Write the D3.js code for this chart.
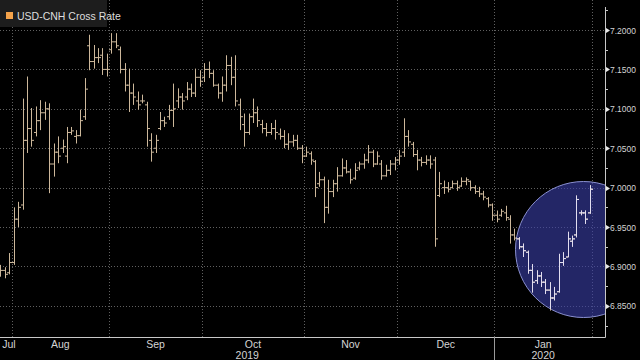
<!DOCTYPE html>
<html><head><meta charset="utf-8">
<script src="https://cdn.jsdelivr.net/npm/d3@7"></script>
<style>html,body{margin:0;padding:0;background:#000;} svg{display:block;}</style>
</head><body>
<svg id="c" width="640" height="360"></svg>
<script>
// ---------- data ----------
const dates = [
"2019-07-29","2019-07-30","2019-07-31",
"2019-08-01","2019-08-02","2019-08-05","2019-08-06","2019-08-07","2019-08-08","2019-08-09","2019-08-12","2019-08-13","2019-08-14","2019-08-15","2019-08-16","2019-08-19","2019-08-20","2019-08-21","2019-08-22","2019-08-23","2019-08-26","2019-08-27","2019-08-28","2019-08-29","2019-08-30",
"2019-09-02","2019-09-03","2019-09-04","2019-09-05","2019-09-06","2019-09-09","2019-09-10","2019-09-11","2019-09-12","2019-09-13","2019-09-16","2019-09-17","2019-09-18","2019-09-19","2019-09-20","2019-09-23","2019-09-24","2019-09-25","2019-09-26","2019-09-27","2019-09-30",
"2019-10-01","2019-10-02","2019-10-03","2019-10-04","2019-10-07","2019-10-08","2019-10-09","2019-10-10","2019-10-11","2019-10-14","2019-10-15","2019-10-16","2019-10-17","2019-10-18","2019-10-21","2019-10-22","2019-10-23","2019-10-24","2019-10-25","2019-10-28","2019-10-29","2019-10-30","2019-10-31",
"2019-11-01","2019-11-04","2019-11-05","2019-11-06","2019-11-07","2019-11-08","2019-11-11","2019-11-12","2019-11-13","2019-11-14","2019-11-15","2019-11-18","2019-11-19","2019-11-20","2019-11-21","2019-11-22","2019-11-25","2019-11-26","2019-11-27","2019-11-28","2019-11-29",
"2019-12-02","2019-12-03","2019-12-04","2019-12-05","2019-12-06","2019-12-09","2019-12-10","2019-12-11","2019-12-12","2019-12-13","2019-12-16","2019-12-17","2019-12-18","2019-12-19","2019-12-20","2019-12-23","2019-12-24","2019-12-25","2019-12-26","2019-12-27","2019-12-30","2019-12-31",
"2020-01-02","2020-01-03","2020-01-06","2020-01-07","2020-01-08","2020-01-09","2020-01-10","2020-01-13","2020-01-14","2020-01-15","2020-01-16","2020-01-17","2020-01-20","2020-01-21","2020-01-22","2020-01-23","2020-01-24","2020-01-27","2020-01-28","2020-01-29","2020-01-30","2020-01-31"];

const highs = [6.902,6.899,6.917,6.975,6.982,7.113,7.141,7.101,7.103,7.111,
7.109,7.107,7.056,7.065,7.061,7.077,7.077,7.073,7.099,7.139,
7.194,7.181,7.177,7.177,7.170,7.196,7.196,7.179,7.158,7.151,
7.132,7.122,7.118,7.109,7.069,7.067,7.096,7.090,7.105,7.132,
7.126,7.120,7.134,7.132,7.151,7.149,7.158,7.160,7.149,7.132,
7.141,7.168,7.166,7.168,7.113,7.094,7.094,7.113,7.103,7.086,
7.082,7.082,7.086,7.075,7.073,7.069,7.067,7.067,7.054,7.052,
7.046,7.035,7.020,7.014,7.010,7.010,7.026,7.037,7.035,7.024,
7.031,7.033,7.043,7.054,7.048,7.046,7.035,7.029,7.035,7.039,
7.048,7.088,7.073,7.058,7.048,7.039,7.041,7.041,7.039,7.020,
7.009,7.007,7.009,7.009,7.013,7.013,7.009,7.003,7.001,6.996,
6.988,6.980,6.971,6.973,6.977,6.965,6.948,6.937,6.929,6.920,
6.903,6.895,6.893,6.884,6.880,6.874,6.916,6.918,6.944,6.939,
6.990,6.971,6.971,7.003];

const lows = [6.887,6.885,6.890,6.902,6.950,6.972,7.044,7.052,7.065,7.073,
7.086,6.993,7.014,7.031,7.044,7.031,7.067,7.056,7.065,7.086,
7.149,7.151,7.158,7.143,7.141,7.170,7.177,7.145,7.122,7.096,
7.105,7.099,7.107,7.052,7.033,7.044,7.073,7.077,7.086,7.077,
7.101,7.099,7.111,7.115,7.115,7.128,7.134,7.139,7.128,7.113,
7.109,7.122,7.130,7.103,7.073,7.052,7.067,7.082,7.077,7.069,
7.065,7.067,7.061,7.061,7.050,7.048,7.052,7.048,7.031,7.039,
7.029,6.988,7.001,6.955,6.967,6.988,6.995,7.014,7.018,7.005,
7.010,7.022,7.024,7.031,7.026,7.029,7.010,7.014,7.016,7.022,
7.029,7.039,7.052,7.039,7.022,7.027,7.029,7.024,6.925,6.988,
6.992,6.994,6.999,6.996,7.001,7.003,6.996,6.992,6.988,6.984,
6.975,6.958,6.956,6.963,6.958,6.929,6.933,6.922,6.912,6.891,
6.867,6.878,6.874,6.865,6.844,6.857,6.867,6.901,6.912,6.925,
6.937,6.965,6.954,6.967];

const opens = [6.890,6.895,6.892,6.905,6.960,6.978,7.060,7.075,7.070,7.085,
7.095,7.100,7.030,7.045,7.050,7.040,7.070,7.065,7.066,7.090,
7.180,7.160,7.165,7.168,7.150,7.175,7.185,7.175,7.150,7.130,
7.120,7.110,7.110,7.105,7.060,7.050,7.075,7.085,7.090,7.098,
7.110,7.115,7.115,7.125,7.120,7.140,7.140,7.150,7.145,7.130,
7.120,7.130,7.155,7.140,7.105,7.080,7.070,7.090,7.095,7.080,
7.075,7.070,7.075,7.068,7.065,7.055,7.058,7.060,7.050,7.040,
7.043,7.033,7.005,7.010,6.975,6.995,7.005,7.015,7.025,7.020,
7.012,7.025,7.030,7.035,7.045,7.030,7.030,7.015,7.022,7.030,
7.035,7.045,7.065,7.055,7.042,7.035,7.032,7.035,7.035,6.990,
7.000,7.000,7.000,7.005,7.002,7.008,7.008,7.000,6.995,6.992,
6.986,6.978,6.965,6.965,6.968,6.960,6.940,6.935,6.925,6.918,
6.895,6.882,6.888,6.880,6.870,6.860,6.868,6.905,6.912,6.932,
6.940,6.968,6.968,6.968];

const closes = [6.895,6.890,6.905,6.960,6.975,7.060,7.075,7.060,7.085,7.095,
7.100,7.030,7.045,7.040,7.052,7.070,7.072,7.066,7.085,7.125,
7.160,7.165,7.165,7.150,7.150,7.185,7.180,7.150,7.130,7.120,
7.115,7.105,7.110,7.075,7.045,7.060,7.085,7.082,7.098,7.100,
7.115,7.110,7.125,7.120,7.140,7.135,7.150,7.145,7.130,7.120,
7.130,7.155,7.140,7.110,7.090,7.070,7.090,7.095,7.085,7.075,
7.070,7.075,7.070,7.065,7.055,7.058,7.060,7.050,7.040,7.045,
7.035,7.000,7.010,6.975,6.995,7.005,7.015,7.025,7.020,7.010,
7.022,7.030,7.035,7.045,7.030,7.040,7.015,7.022,7.030,7.035,
7.040,7.065,7.058,7.042,7.035,7.032,7.035,7.030,6.935,7.005,
7.000,6.998,7.005,7.000,7.008,7.010,7.000,6.995,6.992,6.988,
6.978,6.965,6.960,6.970,6.962,6.940,6.936,6.925,6.920,6.895,
6.880,6.888,6.880,6.870,6.860,6.865,6.905,6.910,6.935,6.935,
6.985,6.968,6.960,6.998];

const yTicks = [6.85, 6.90, 6.95, 7.00, 7.05, 7.10, 7.15, 7.20];
const yMinorTicks = [6.825, 6.875, 6.925, 6.975, 7.025, 7.075, 7.125, 7.175, 7.225];
const monthNames = ["Jan","Feb","Mar","Apr","May","Jun","Jul","Aug","Sep","Oct","Nov","Dec"];
const legendLabel = "USD-CNH Cross Rate";
// highlighted region (annotation circle): centre in data terms
const circleCenter = { index: 131.6, value: 6.9215 };
const circleRadius = 68;

// ---------- layout ----------
const W = 640, H = 360;
const plotL = 0, plotR = 605, plotT = 7, plotB = 337;
const FONT = "'Liberation Sans Narrow','Arial Narrow','Liberation Sans',sans-serif";
const TXT = "#d4d4d4", GRID = "#606060", AXIS = "#c8c8c8";
const BAR = "#cdb89b", BAR_HI = "#e2def0";

const svg = d3.select("#c");
svg.append("rect").attr("width", W).attr("height", H).attr("fill", "#000");

const x = d3.scaleLinear().domain([-0.11, 136.45]).range([plotL, plotR]);
const y = d3.scaleLinear().domain([6.8105, 7.2292]).range([plotB, plotT]);

const defs = svg.append("defs");
defs.append("clipPath").attr("id", "plotclip").append("rect")
  .attr("x", plotL).attr("y", 0).attr("width", plotR - plotL).attr("height", plotB);
const cx = x(circleCenter.index), cy = y(circleCenter.value);
defs.append("clipPath").attr("id", "circclip").append("circle")
  .attr("cx", cx).attr("cy", cy).attr("r", circleRadius);

// month boundaries
const parsed = dates.map(d => new Date(d + "T00:00:00"));
const boundaries = [];
for (let i = 1; i < parsed.length; i++) {
  if (parsed[i].getMonth() !== parsed[i-1].getMonth()) boundaries.push({ pos: i - 0.5, date: parsed[i] });
}
const lastD = parsed[parsed.length - 1];
boundaries.push({ pos: parsed.length - 0.5, date: new Date(lastD.getFullYear(), lastD.getMonth() + 1, 1) });

const plot = svg.append("g").attr("clip-path", "url(#plotclip)");

// grid
plot.append("g").selectAll("line").data(yTicks).join("line")
  .attr("x1", plotL).attr("x2", plotR)
  .attr("y1", d => Math.round(y(d)) + 0.5).attr("y2", d => Math.round(y(d)) + 0.5)
  .attr("stroke", GRID).attr("stroke-dasharray", "1,2");
plot.append("g").selectAll("line").data(boundaries).join("line")
  .attr("x1", d => Math.round(x(d.pos)) + 0.5).attr("x2", d => Math.round(x(d.pos)) + 0.5)
  .attr("y1", 0).attr("y2", plotB)
  .attr("stroke", GRID).attr("stroke-dasharray", "1,2");

// highlight circle
plot.append("circle").attr("cx", cx).attr("cy", cy).attr("r", circleRadius)
  .attr("fill", "rgb(58,64,170)").attr("fill-opacity", 0.6)
  .attr("stroke", "#8a90d0").attr("stroke-width", 1);

// OHLC bars
const idx = d3.range(dates.length);
function barPath(i) {
  const xc = Math.round(x(i)) + 0.5;
  return `M${xc},${y(highs[i])}V${y(lows[i])}` +
         `M${xc - 2.5},${y(opens[i])}H${xc}` +
         `M${xc},${y(closes[i])}H${xc + 2.5}`;
}
plot.append("g").selectAll("path").data(idx).join("path")
  .attr("d", barPath).attr("fill", "none").attr("stroke", BAR).attr("stroke-width", 1);
plot.append("g").attr("clip-path", "url(#circclip)")
  .selectAll("path").data(idx).join("path")
  .attr("d", barPath).attr("fill", "none").attr("stroke", BAR_HI).attr("stroke-width", 1);

// axis lines
svg.append("line").attr("x1", plotL).attr("x2", plotR + 0.5)
  .attr("y1", plotB + 0.5).attr("y2", plotB + 0.5).attr("stroke", AXIS);
svg.append("line").attr("x1", plotR + 0.5).attr("x2", plotR + 0.5)
  .attr("y1", plotT).attr("y2", plotB + 0.5).attr("stroke", AXIS);

// y axis labels
const yAxis = d3.axisRight(y).tickValues(yTicks).tickFormat(d3.format(".4f")).tickSize(0).tickPadding(5);
const gy = svg.append("g").attr("transform", `translate(${plotR},0)`).call(yAxis);
gy.select(".domain").remove();
gy.selectAll("text").attr("fill", TXT).attr("font-family", FONT).attr("font-size", 9.5)
  .attr("textLength", 26).attr("lengthAdjust", "spacingAndGlyphs");
svg.append("g").selectAll("path").data(yTicks).join("path")
  .attr("d", d => { const yy = Math.round(y(d)) + 0.5; return `M${plotR + 1},${yy - 2.5}L${plotR + 5},${yy}L${plotR + 1},${yy + 2.5}Z`; })
  .attr("fill", "#e8e8e8");
svg.append("g").selectAll("line").data(yMinorTicks).join("line")
  .attr("x1", plotR).attr("x2", plotR + 3)
  .attr("y1", d => Math.round(y(d)) + 0.5).attr("y2", d => Math.round(y(d)) + 0.5)
  .attr("stroke", AXIS);

// month labels
const labelG = svg.append("g").attr("font-family", FONT).attr("font-size", 10.5).attr("fill", TXT);
const starts = [{ pos: -0.5, date: parsed[0] }].concat(boundaries);
for (let k = 0; k < starts.length - 1; k++) {
  const a = Math.max(plotL, x(starts[k].pos)), b = Math.min(plotR, x(starts[k + 1].pos));
  let mid = (a + b) / 2;
  if (mid < 9) mid = 9;
  labelG.append("text").attr("x", mid).attr("y", 348).attr("text-anchor", "middle")
    .text(monthNames[starts[k].date.getMonth()]);
}
// year labels & separator
const yearGroups = d3.groups(idx, i => parsed[i].getFullYear());
yearGroups.forEach(([yr, arr]) => {
  const a = Math.max(plotL, x(arr[0] - 0.5)), b = Math.min(plotR, x(arr[arr.length - 1] + 0.5));
  labelG.append("text").attr("x", (a + b) / 2).attr("y", 359).attr("text-anchor", "middle").text(yr);
});
boundaries.filter(b => b.date.getMonth() === 0 && b.pos < dates.length - 1).forEach(b => {
  svg.append("line").attr("x1", Math.round(x(b.pos)) + 0.5).attr("x2", Math.round(x(b.pos)) + 0.5)
    .attr("y1", plotB).attr("y2", H).attr("stroke", "#9a9a9a");
});

// legend
const lg = svg.append("g");
lg.append("rect").attr("x", 0).attr("y", 0).attr("width", 107).attr("height", 27).attr("fill", "#1d1d1d");
lg.append("rect").attr("x", 6).attr("y", 12).attr("width", 7).attr("height", 7).attr("fill", "#f3a24a");
lg.append("text").attr("x", 17).attr("y", 20).attr("font-family", FONT).attr("font-size", 10.5)
  .attr("fill", "#dedede").text(legendLabel);
</script>
</body></html>
